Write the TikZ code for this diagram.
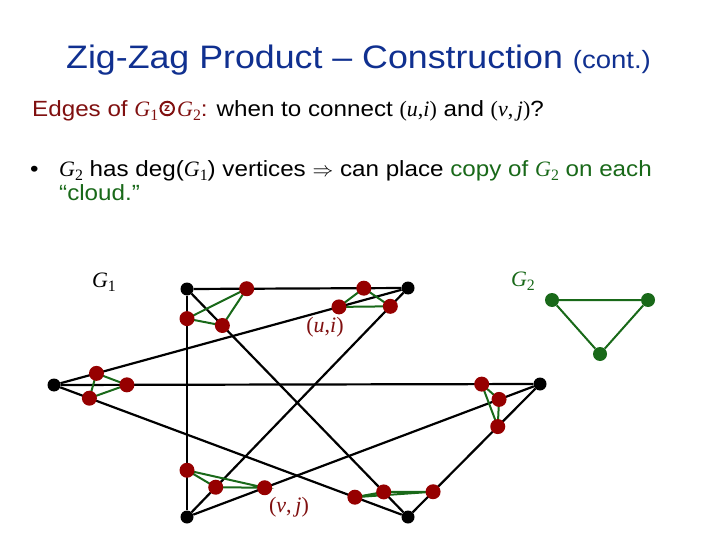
\documentclass[tikz,border=0pt]{standalone}
\usepackage{fontspec}
\setmainfont{Liberation Sans}[FakeStretch=1.1]
\newfontfamily\serifrm{Liberation Serif}
\usetikzlibrary{calc,positioning}
\definecolor{titleblue}{RGB}{16,48,144}
\definecolor{darkred}{RGB}{128,16,16}
\definecolor{cloudred}{RGB}{150,0,0}
\definecolor{cloudgreen}{RGB}{25,105,25}
\newcommand{\vG}[1]{{\serifrm\itshape G}\raisebox{-.3ex}{\serifrm\scalebox{.72}{#1}}}
\newcommand{\vpair}[3]{{\serifrm(\textit{#1},#3\textit{#2})}}
\tikzset{
 g1edge/.style={line width=2.2pt},
 g1vertex/.style={circle,fill=black,minimum size=13pt,inner sep=0},
 cloudedge/.style={draw=cloudgreen,line width=2pt},
 cloudvertex/.style={circle,fill=cloudred,minimum size=15pt,inner sep=0},
 g2vertex/.style={circle,fill=cloudgreen,minimum size=14pt,inner sep=0},
 bodytext/.style={anchor=base west,inner sep=0,font=\fontsize{22}{26}\selectfont},
 vlabel/.style={inner sep=0,font=\fontsize{22}{26}\selectfont}
}
\begin{document}
\begin{tikzpicture}[x=1pt,y=-1pt]
\path[use as bounding box,fill=white] (0,0) rectangle (720,540);
% title and text
\node[bodytext,text=titleblue,font=\fontsize{32.5}{38}\selectfont] (title) at (66,69)
 {Zig-Zag Product -- Construction {\fontsize{25}{28}\selectfont (cont.)}};
\node[bodytext,text=darkred] (edges) at (32,117) {Edges of \vG{1}};
\node[circle,draw=darkred,line width=2pt,inner sep=.5pt,minimum size=13.5pt,text=darkred,
 font=\fontsize{11}{11}\selectfont\bfseries,anchor=west] (zz) at ([xshift=1pt,yshift=8.5pt]edges.base east) {z};
\node[bodytext] (when) at ([xshift=2pt]zz.east |- edges.base)
 {\textcolor{darkred}{\vG{2}:} when to connect \vpair{u}{i}{} and \vpair{v}{j}{\,}?};
\node[bodytext] (bullet) at (30,177) {\textbullet};
\node[bodytext] (deg) at (59,177)
 {\vG{2} has deg(\vG{1}) vertices $\Rightarrow$ can place \textcolor{cloudgreen}{copy of \vG{2} on each}};
\node[bodytext,text=cloudgreen] (cloud) at (59,201) {``cloud.''};
% G1 vertices
\node[g1vertex] (tl) at (187,289) {};
\node[g1vertex] (tr) at (408,288) {};
\node[g1vertex] (l) at (54,385) {};
\node[g1vertex] (r) at (540,384) {};
\node[g1vertex] (bl) at (187,517) {};
\node[g1vertex] (br) at (408,517) {};
\draw[g1edge] (tl) -- (tr);
\draw[g1edge] (tl) -- (bl);
\draw[g1edge] (tl) -- (br);
\draw[g1edge] (tr) -- (l);
\draw[g1edge] (tr) -- (bl);
\draw[g1edge] (l) -- (r);
\draw[g1edge] (l) -- (br);
\draw[g1edge] (r) -- (bl);
\draw[g1edge] (r) -- (br);
% clouds
\coordinate (tl1) at ($(tl)!.27!(tr)$);
\coordinate (tl2) at ($(tl)!.13!(bl)$);
\coordinate (tl3) at ($(tl)!.16!(br)$);
\coordinate (tr1) at ($(tr)!.20!(tl)$);
\coordinate (tr2) at ($(tr)!.195!(l)$);
\coordinate (tr3) at ($(tr)!.08!(bl)$);
\coordinate (l1) at ($(l)!.12!(tr)$);
\coordinate (l2) at ($(l)!.15!(r)$);
\coordinate (l3) at ($(l)!.10!(br)$);
\coordinate (r1) at ($(r)!.12!(l)$);
\coordinate (r2) at ($(r)!.116!(bl)$);
\coordinate (r3) at ($(r)!.32!(br)$);
\coordinate (bl1) at ($(bl)!.205!(tl)$);
\coordinate (bl2) at ($(bl)!.13!(tr)$);
\coordinate (bl3) at ($(bl)!.22!(r)$);
\coordinate (br1) at ($(br)!.15!(l)$);
\coordinate (br2) at ($(br)!.11!(tl)$);
\coordinate (br3) at ($(br)!.19!(r)$);
\foreach \c in {tl,tr,l,r,bl,br}{
 \draw[cloudedge] (\c1) -- (\c2) -- (\c3) -- cycle;
 \foreach \i in {1,2,3}
  \node[cloudvertex] at (\c\i) {};
}
% G2
\node[g2vertex] (a) at (552,300) {};
\node[g2vertex] (b) at (648,300) {};
\node[g2vertex] (c) at (600,354) {};
\draw[cloudedge] (a) -- (b) -- (c) -- (a);
% labels
\node[vlabel] (g1) at (104,282) {\vG{1}};
\node[vlabel,text=cloudgreen] (g2) at (523,281) {\vG{2}};
\node[vlabel,text=darkred] (ui) at (325,327) {\vpair{u}{i}{}};
\node[vlabel,text=darkred] (vj) at (289,507) {\vpair{v}{j}{\,}};
\end{tikzpicture}
\end{document}
